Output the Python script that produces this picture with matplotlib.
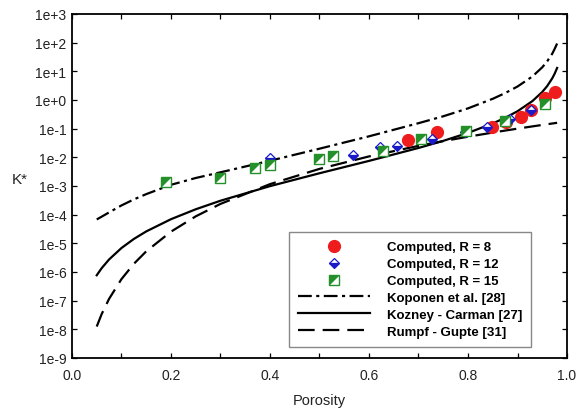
import math

import matplotlib

matplotlib.use("Agg")
import matplotlib.pyplot as plt
from matplotlib.ticker import FixedLocator, FuncFormatter, MultipleLocator

plt.rcParams["font.family"] = ["Liberation Sans", "DejaVu Sans"]

# --- computed points ---
por_r8 = [0.679, 0.737, 0.848, 0.877, 0.907, 0.927, 0.956, 0.976]
k_r8 = [0.039, 0.076, 0.113, 0.17, 0.25, 0.43, 1.15, 1.87]

por_r12 = [0.40, 0.568, 0.622, 0.656, 0.727, 0.794, 0.838, 0.885, 0.927]
k_r12 = [9.3e-3, 0.0123, 0.0227, 0.0245, 0.042, 0.076, 0.112, 0.21, 0.46]

por_r15 = [0.19, 0.299, 0.37, 0.40, 0.498, 0.528, 0.629, 0.706, 0.796, 0.875, 0.956]
k_r15 = [1.37e-3, 1.94e-3, 4.2e-3, 5.2e-3, 8.9e-3, 0.011, 0.017, 0.044, 0.081, 0.19, 0.72]

# --- model curves ---
por_curve = [0.05, 0.06, 0.075, 0.1, 0.125, 0.15, 0.2, 0.25, 0.3, 0.4, 0.5, 0.6,
             0.7, 0.75, 0.8, 0.85, 0.875, 0.9, 0.93, 0.95, 0.96, 0.97, 0.975, 0.98]
k_koponen = [6.8e-5, 8.5e-5, 1.2e-4, 2.1e-4, 3.4e-4, 5.2e-4, 1.1e-3, 1.9e-3, 3.0e-3,
             7.6e-3, 2.0e-2, 5.4e-2, 0.155, 0.27, 0.51, 1.1, 1.74, 2.95, 6.6, 13.8,
             22.4, 40.7, 60.3, 93.3]
k_kozeny = [7.69e-7, 1.36e-6, 2.74e-6, 6.86e-6, 1.42e-5, 2.60e-5, 6.94e-5, 1.54e-4,
            3.06e-4, 9.88e-4, 2.78e-3, 7.50e-3, 2.12e-2, 3.75e-2, 7.11e-2, 0.152,
            0.238, 0.405, 0.912, 1.905, 3.07, 5.63, 8.24, 13.1]
k_rumpf = [1.25e-8, 3.41e-8, 1.16e-7, 5.65e-7, 1.93e-6, 5.25e-6, 2.55e-5, 8.72e-5,
           2.37e-4, 1.16e-3, 3.95e-3, 1.075e-2, 2.51e-2, 3.67e-2, 5.23e-2, 7.30e-2,
           8.57e-2, 0.100, 0.1198, 0.1347, 0.1427, 0.1511, 0.1554, 0.160]

decades = list(range(-9, 4))

RED = "#ee1c1c"
BLUE = "#1a1ac8"
GREEN = "#23902a"

fig = plt.figure(figsize=(5.8, 4.14), dpi=100)
ax = fig.add_axes([0.1241, 0.1329, 0.8535, 0.8309])

lw = 1.6
l_kop, = ax.plot(por_curve, k_koponen, color="black", lw=lw,
                 dashes=(6.2, 2.0, 1.4, 2.0), label="Koponen et al. [28]")
l_koz, = ax.plot(por_curve, k_kozeny, color="black", lw=lw,
                 label="Kozney - Carman [27]")
l_rum, = ax.plot(por_curve, k_rumpf, color="black", lw=lw,
                 dashes=(7.5, 3.6), label="Rumpf - Gupte [31]")

# markers: red circles, half-filled blue diamonds, diagonally half-filled green squares
m_r8, = ax.plot(por_r8, k_r8, "o", ms=8.5, color=RED, mec=RED, ls="none")
m_r12, = ax.plot(por_r12, k_r12, "D", ms=5.5, color=BLUE, mec=BLUE, mew=0.9,
                 fillstyle="bottom", markerfacecoloralt="white", ls="none")
sq_box, = ax.plot(por_r15, k_r15, "s", ms=6.5, mfc="white", mec=GREEN, mew=1.0, ls="none")
sq_tri, = ax.plot(por_r15, k_r15, marker=[(-1, -1), (-1, 1), (1, 1)], ms=6.5,
                  color=GREEN, mec=GREEN, mew=0.4, ls="none")

ax.set_yscale("log")
ax.set_xlim(0.0, 1.0)
ax.set_ylim(1e-9, 1e3)

ax.yaxis.set_major_locator(FixedLocator([10.0 ** d for d in decades]))
ax.yaxis.set_minor_locator(FixedLocator([]))
ax.yaxis.set_major_formatter(FuncFormatter(
    lambda v, pos: "1e{:+d}".format(int(round(math.log10(v))))))
ax.xaxis.set_major_locator(MultipleLocator(0.2))
ax.xaxis.set_minor_locator(MultipleLocator(0.1))
ax.xaxis.set_major_formatter(FuncFormatter(lambda v, pos: f"{v:.1f}"))

ax.tick_params(which="both", direction="in", top=True, right=True,
               length=3.5, width=0.9, labelsize=10, labelcolor="#222222")
ax.tick_params(axis="x", pad=7)
ax.tick_params(axis="y", pad=4)
for s in ax.spines.values():
    s.set_linewidth(1.3)

ax.set_xlabel("Porosity", fontsize=10.5, labelpad=8, color="#222222")
ax.set_ylabel("K*", rotation=0, fontsize=11, color="#222222")
ax.yaxis.set_label_coords(-0.105, 0.50)

leg = ax.legend([m_r8, m_r12, (sq_box, sq_tri), l_kop, l_koz, l_rum],
                ["Computed, R = 8", "Computed, R = 12", "Computed, R = 15",
                 "Koponen et al. [28]", "Kozney - Carman [27]", "Rumpf - Gupte [31]"],
                loc="lower right", bbox_to_anchor=(0.928, 0.031), borderaxespad=0,
                prop={"weight": "bold", "size": 9.5}, handlelength=5.4,
                handletextpad=1.3, labelspacing=0.36, borderpad=0.7,
                fancybox=False, edgecolor="#888888", framealpha=1)
leg.get_frame().set_linewidth(1.0)

fig.savefig("out.png", dpi=100)
